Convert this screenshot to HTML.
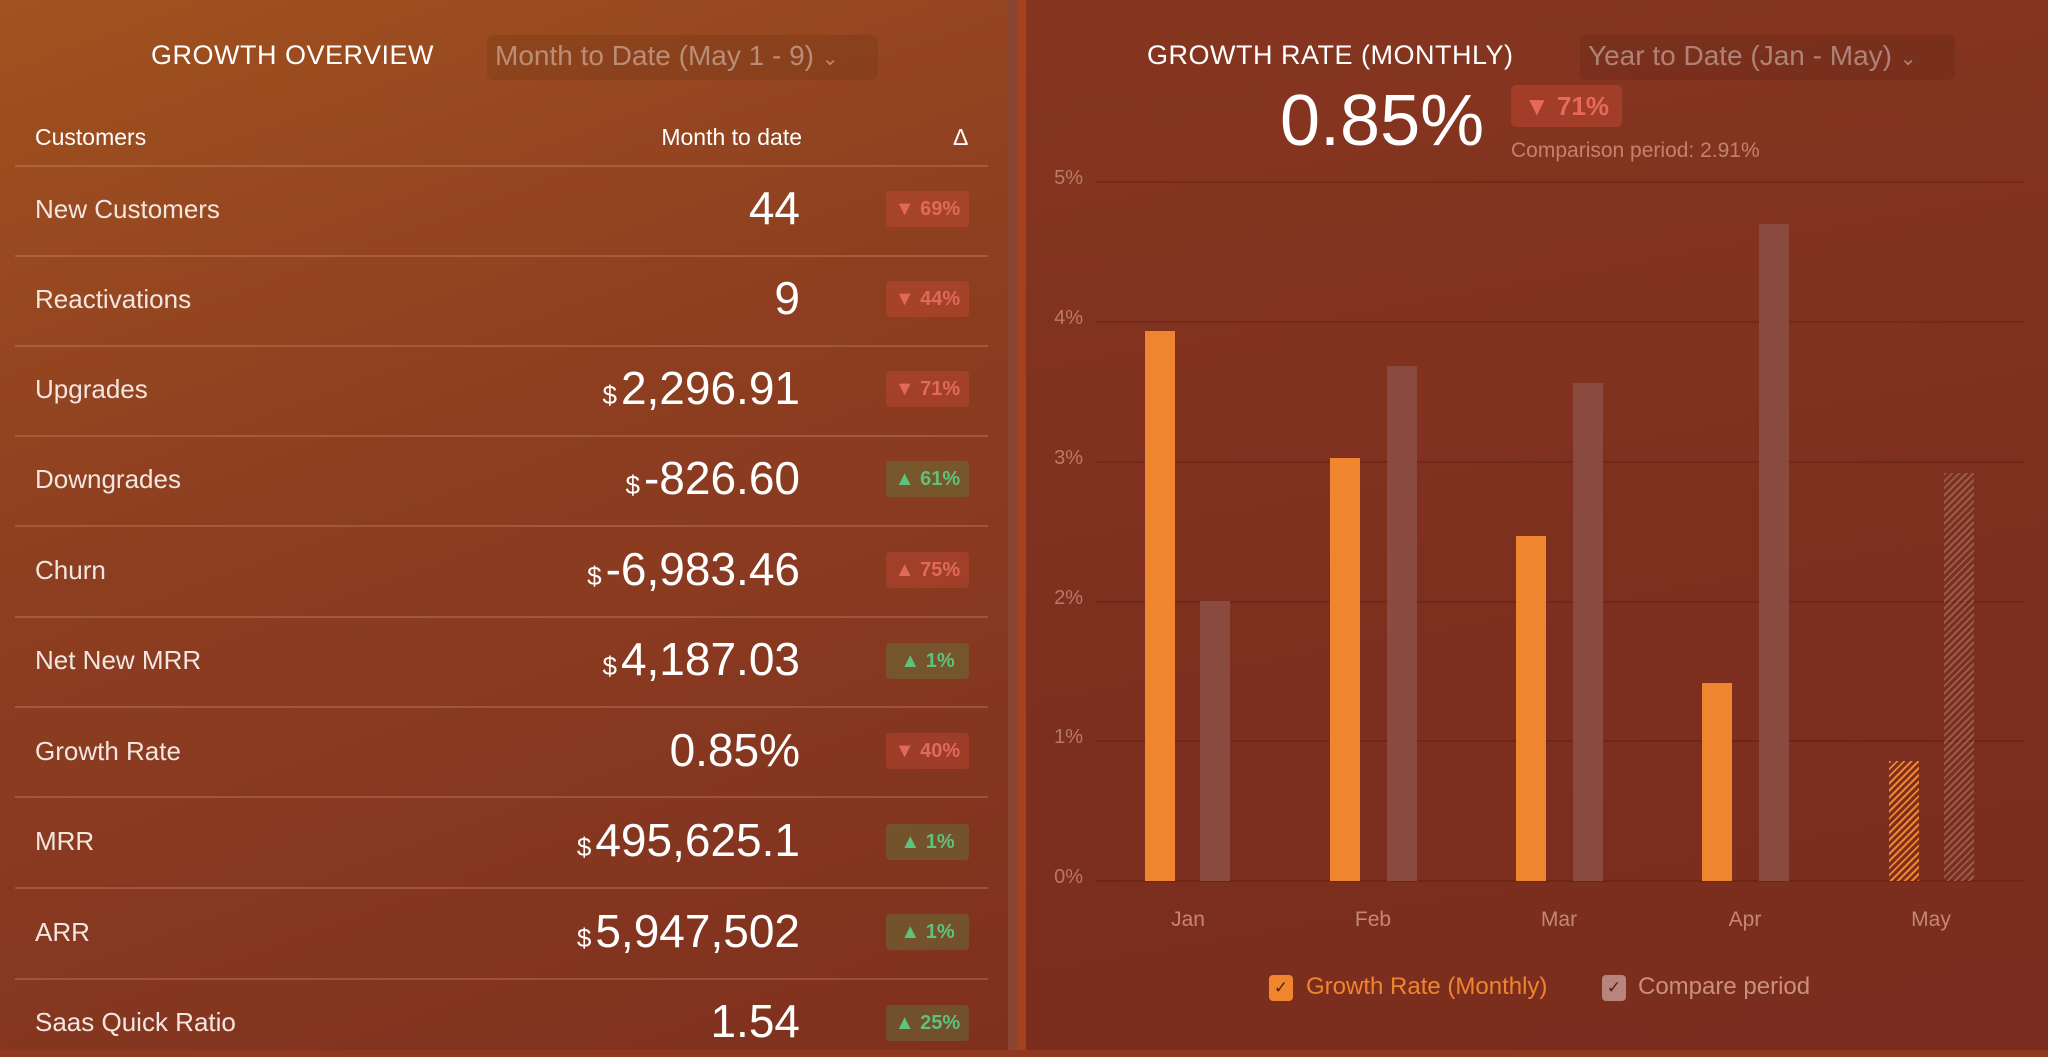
<!DOCTYPE html>
<html><head><meta charset="utf-8"><style>
*{margin:0;padding:0;box-sizing:border-box}
body{width:2048px;height:1057px;overflow:hidden;background:#8c3a20;font-family:"Liberation Sans",sans-serif;position:relative;color:#fff}
.lp{position:absolute;left:0;top:0;width:1008px;height:1050px;background:linear-gradient(160deg,#a1521f 0%,#8e3f20 40%,#7f301f 100%)}
.s1{position:absolute;left:1008px;top:0;width:10px;height:1050px;background:#8a4530}
.s2{position:absolute;left:1018px;top:0;width:8px;height:1057px;background:#a4421f}
.rp{position:absolute;left:1026px;top:0;width:1022px;height:1050px;background:linear-gradient(170deg,#86361f 0%,#7d2f1f 60%,#7a2c1e 100%)}
.bot{position:absolute;left:0;top:1050px;width:2048px;height:7px;background:#8f3a20}
.t{position:absolute;white-space:nowrap}
.dd{position:absolute;background:rgba(0,0,0,0.08);border-radius:6px;color:rgba(255,255,255,0.4);font-size:28px;padding-left:8px;line-height:41px}
.line{position:absolute;left:15px;width:973px;height:2px;background:rgba(255,200,170,0.2)}
.lab{position:absolute;left:35px;font-size:26px;color:#f3e6e0}
.val{position:absolute;right:1248px;font-size:46px;text-align:right}
.val small{font-size:26px;margin-right:4px}
.b{position:absolute;left:886px;width:83px;height:36px;border-radius:4px;font-size:20px;font-weight:bold;text-align:center;line-height:36px}
.r{background:rgba(220,80,60,0.3);color:#e0695c}
.g{background:rgba(90,140,70,0.35);color:#5ec27d}
.yl{position:absolute;right:965px;font-size:20px;color:rgba(255,210,190,0.45)}
.gl{position:absolute;left:1096px;width:928px;height:2px;background:rgba(60,10,5,0.2)}
.bar{position:absolute;width:30px}
.o{background:#f0852f}
.c{background:#8b4a3f}
.m{position:absolute;font-size:21px;color:rgba(255,210,190,0.55);width:100px;text-align:center}
</style></head><body>
<div class="lp"></div><div class="s1"></div><div class="s2"></div><div class="rp"></div><div class="bot"></div>

<div class="t" style="left:151px;top:40px;font-size:27px;letter-spacing:0.5px">GROWTH OVERVIEW</div>
<div class="dd" style="left:487px;top:35px;width:391px">Month to Date (May 1 - 9) <span style="font-size:20px">&#8964;</span></div>

<div class="t" style="left:35px;top:124px;font-size:23px">Customers</div>
<div class="t" style="right:1246px;top:124px;font-size:23px">Month to date</div>
<div class="t" style="left:953px;top:124px;font-size:23px">Δ</div>

<div class="line" style="top:165px"></div>
<div class="line" style="top:255px"></div>
<div class="line" style="top:345px"></div>
<div class="line" style="top:435px"></div>
<div class="line" style="top:525px"></div>
<div class="line" style="top:616px"></div>
<div class="line" style="top:706px"></div>
<div class="line" style="top:796px"></div>
<div class="line" style="top:887px"></div>
<div class="line" style="top:978px"></div>

<div class="lab" style="top:194px">New Customers</div><div class="val" style="top:181px">44</div><div class="b r" style="top:191px">▼ 69%</div>
<div class="lab" style="top:284px">Reactivations</div><div class="val" style="top:271px">9</div><div class="b r" style="top:281px">▼ 44%</div>
<div class="lab" style="top:374px">Upgrades</div><div class="val" style="top:361px"><small>$</small>2,296.91</div><div class="b r" style="top:371px">▼ 71%</div>
<div class="lab" style="top:464px">Downgrades</div><div class="val" style="top:451px"><small>$</small>-826.60</div><div class="b g" style="top:461px">▲ 61%</div>
<div class="lab" style="top:555px">Churn</div><div class="val" style="top:542px"><small>$</small>-6,983.46</div><div class="b r" style="top:552px">▲ 75%</div>
<div class="lab" style="top:645px">Net New MRR</div><div class="val" style="top:632px"><small>$</small>4,187.03</div><div class="b g" style="top:643px">▲ 1%</div>
<div class="lab" style="top:736px">Growth Rate</div><div class="val" style="top:723px">0.85%</div><div class="b r" style="top:733px">▼ 40%</div>
<div class="lab" style="top:826px">MRR</div><div class="val" style="top:813px"><small>$</small>495,625.1</div><div class="b g" style="top:824px">▲ 1%</div>
<div class="lab" style="top:917px">ARR</div><div class="val" style="top:904px"><small>$</small>5,947,502</div><div class="b g" style="top:914px">▲ 1%</div>
<div class="lab" style="top:1007px">Saas Quick Ratio</div><div class="val" style="top:994px">1.54</div><div class="b g" style="top:1005px">▲ 25%</div>

<div class="t" style="left:1147px;top:40px;font-size:27px;letter-spacing:0.5px">GROWTH RATE (MONTHLY)</div>
<div class="dd" style="left:1580px;top:35px;width:375px">Year to Date (Jan - May) <span style="font-size:20px">&#8964;</span></div>
<div class="t" style="left:1280px;top:80px;font-size:72px;font-weight:300">0.85%</div>
<div class="t" style="left:1511px;top:85px;width:111px;height:42px;background:rgba(220,80,60,0.35);border-radius:5px;color:#e56a5c;font-size:26px;font-weight:bold;text-align:center;line-height:42px">▼ 71%</div>
<div class="t" style="left:1511px;top:139px;font-size:21px;color:rgba(255,210,190,0.5)">Comparison period: 2.91%</div>

<div class="gl" style="top:181px"></div><div class="yl" style="top:167px">5%</div>
<div class="gl" style="top:321px"></div><div class="yl" style="top:307px">4%</div>
<div class="gl" style="top:461px"></div><div class="yl" style="top:447px">3%</div>
<div class="gl" style="top:601px"></div><div class="yl" style="top:587px">2%</div>
<div class="gl" style="top:740px"></div><div class="yl" style="top:726px">1%</div>
<div class="gl" style="top:880px"></div><div class="yl" style="top:866px">0%</div>

<div class="bar o" style="left:1145px;top:331px;height:550px"></div>
<div class="bar c" style="left:1200px;top:601px;height:280px"></div>
<div class="bar o" style="left:1330px;top:458px;height:423px"></div>
<div class="bar c" style="left:1387px;top:366px;height:515px"></div>
<div class="bar o" style="left:1516px;top:536px;height:345px"></div>
<div class="bar c" style="left:1573px;top:383px;height:498px"></div>
<div class="bar o" style="left:1702px;top:683px;height:198px"></div>
<div class="bar c" style="left:1759px;top:224px;height:657px"></div>
<div class="bar" style="left:1889px;top:761px;height:120px;background:repeating-linear-gradient(135deg,#f0852f 0 2px,transparent 2px 5px)"></div>
<div class="bar" style="left:1944px;top:473px;height:408px;background:repeating-linear-gradient(135deg,#9a5a4c 0 2px,transparent 2px 5px)"></div>

<div class="m" style="left:1138px;top:908px">Jan</div>
<div class="m" style="left:1323px;top:908px">Feb</div>
<div class="m" style="left:1509px;top:908px">Mar</div>
<div class="m" style="left:1695px;top:908px">Apr</div>
<div class="m" style="left:1881px;top:908px">May</div>

<div class="t" style="left:1269px;top:975px;width:24px;height:26px;background:#f0852f;border-radius:4px;font-size:17px;color:#5a2010;text-align:center;line-height:26px">✓</div>
<div class="t" style="left:1306px;top:973px;font-size:24px;color:#f0852f">Growth Rate (Monthly)</div>
<div class="t" style="left:1602px;top:975px;width:24px;height:26px;background:#b7857c;border-radius:4px;font-size:17px;color:#5a2010;text-align:center;line-height:26px">✓</div>
<div class="t" style="left:1638px;top:973px;font-size:24px;color:rgba(255,210,190,0.6)">Compare period</div>
</body></html>
